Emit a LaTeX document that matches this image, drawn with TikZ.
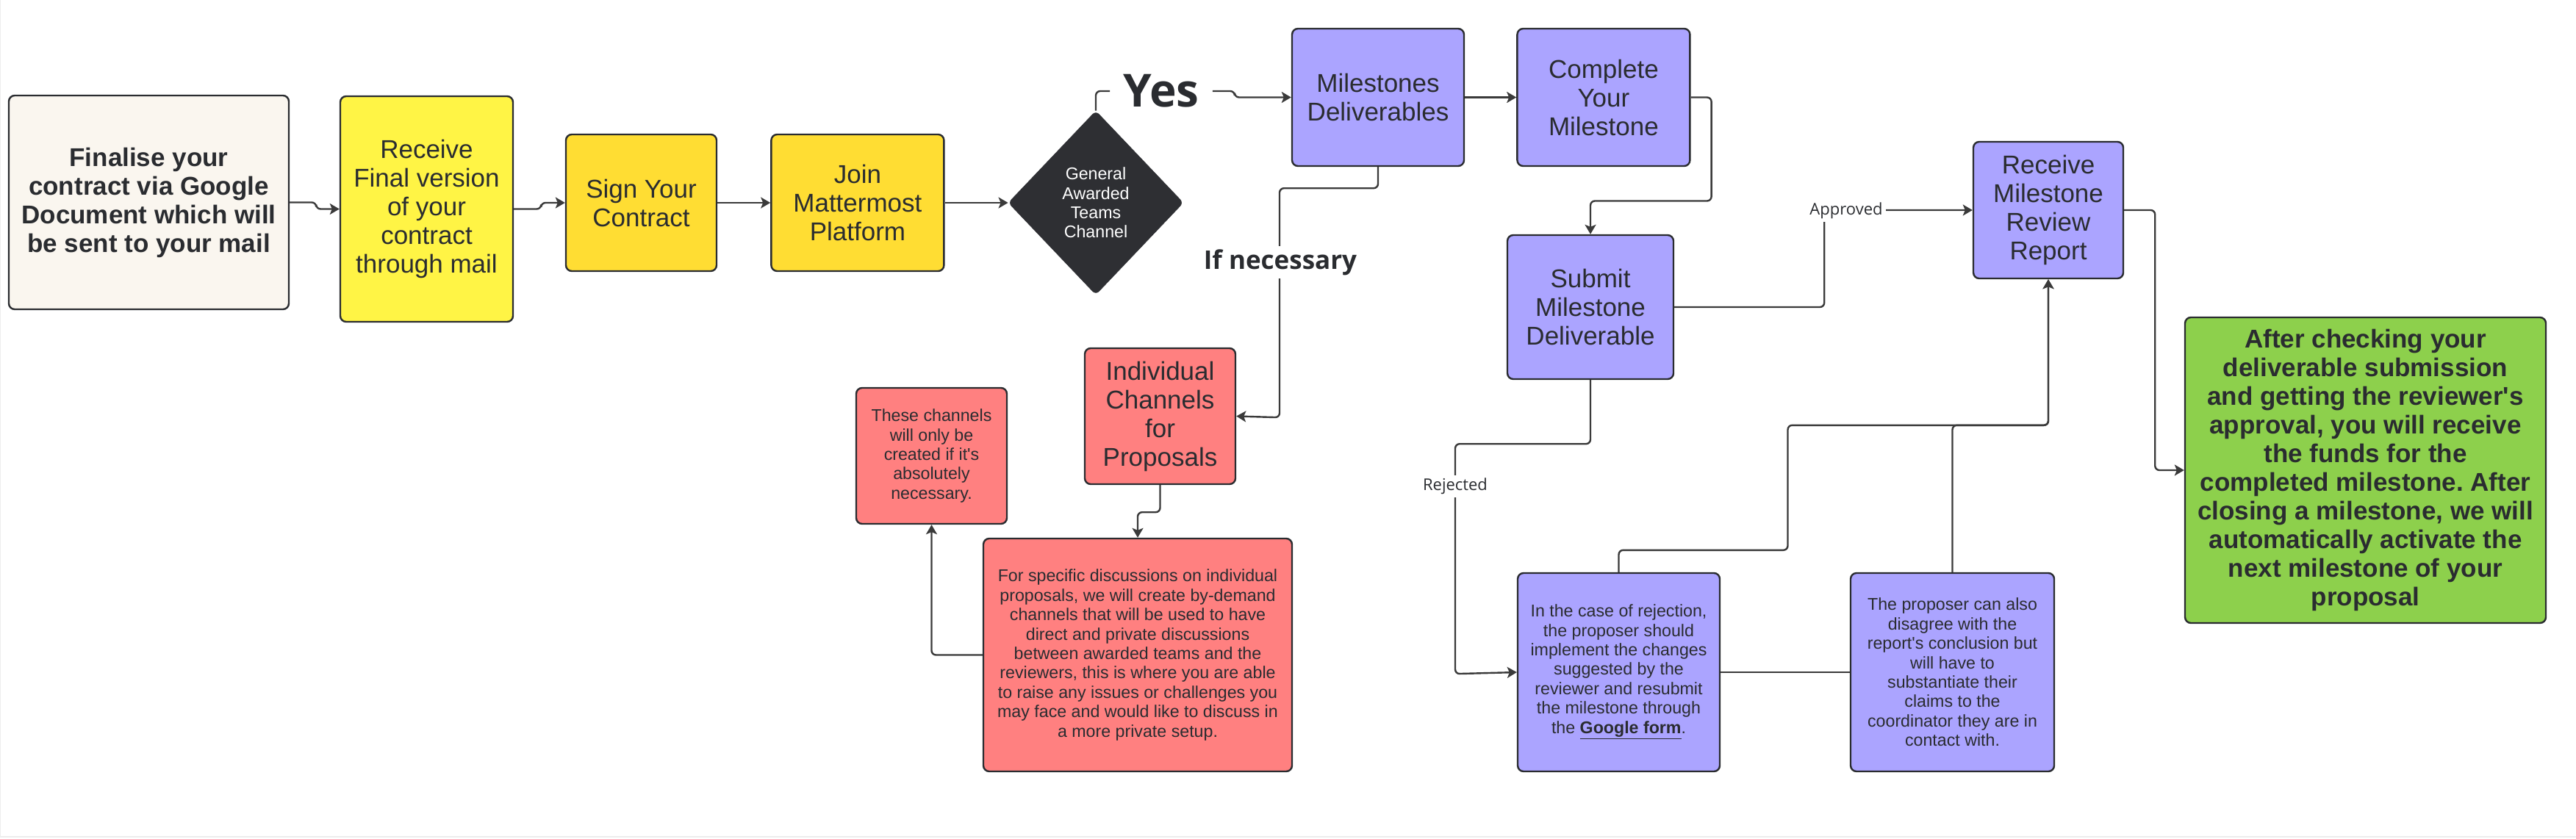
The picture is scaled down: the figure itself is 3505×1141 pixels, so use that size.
\documentclass[tikz,border=0pt]{standalone}
\usepackage{fontspec}
\setmainfont{Liberation Sans}
\newfontfamily\labelfont{Open Sans}
\usetikzlibrary{arrows.meta,positioning,shapes.geometric}
\definecolor{chartink}{HTML}{2A2C30}
\definecolor{chartline}{HTML}{3A3A3A}
\definecolor{chartcream}{HTML}{FAF6EF}
\definecolor{chartlemon}{HTML}{FFF445}
\definecolor{chartgold}{HTML}{FFDD33}
\definecolor{chartnight}{HTML}{2E2F33}
\definecolor{chartlilac}{HTML}{ABA4FF}
\definecolor{chartcoral}{HTML}{FF8080}
\definecolor{chartlime}{HTML}{8DD04C}
\newcommand{\bigtxt}{\fontsize{17.5}{19.5}\selectfont}
\newcommand{\smalltxt}{\fontsize{11.6}{13.2}\selectfont}
\frenchspacing
\tikzset{
  flowbox/.style={
    rounded corners=4pt,
    draw=chartink,
    line width=1.2pt,
    align=center,
    text=chartink,
    inner sep=4pt
  },
  boxsize/.style 2 args={
    minimum width=#1*0.5pt,
    minimum height=#2*0.5pt
  },
  arrow/.style={
    -{Stealth[length=6.5pt,width=7.5pt,inset=1.5pt]},
    line width=1.2pt,
    draw=chartline,
    rounded corners=3pt
  },
  link/.style={
    line width=1.2pt,
    draw=chartline,
    rounded corners=3pt
  },
  edgelabel/.style={
    fill=white,
    inner sep=2pt,
    text=chartink
  }
}

\begin{document}
\begin{tikzpicture}[x=0.5pt, y=-0.5pt, node distance=35pt]
\useasboundingbox (0,0) rectangle (3505,1141);
\draw[black!7, line width=0.8pt] (0.5,0) -- (0.5,1139) -- (3505,1139);
% contract steps
\node[flowbox, fill=chartcream, boxsize={381}{291}, font=\bigtxt\bfseries] (fin) at (202.5,275.5) {Finalise your\\contract via Google\\Document which will\\be sent to your mail};
\node[flowbox, fill=chartlemon, boxsize={235}{307}, font=\bigtxt] (recv) at (580.5,284.5) {Receive\\Final version\\of your\\contract\\through mail};
\node[flowbox, fill=chartgold, boxsize={205}{186}, font=\bigtxt] (sign) at (872.5,276) {Sign Your\\Contract};
\node[flowbox, fill=chartgold, boxsize={235}{186}, font=\bigtxt, right=36pt of sign] (join) {Join\\Mattermost\\Platform};
\node[diamond, fill=chartnight, draw=chartnight, rounded corners=3pt, boxsize={238}{250}, inner sep=0pt, text=white, align=center, font=\smalltxt, right=43pt of join] (channel) {General\\Awarded\\Teams\\Channel};
% milestones
\node[flowbox, fill=chartlilac, boxsize={234}{187}, font=\bigtxt] (milestones) at (1875,132.5) {Milestones\\Deliverables};
\node[flowbox, fill=chartlilac, boxsize={235}{187}, font=\bigtxt, right=35pt of milestones] (complete) {Complete\\Your\\Milestone};
\node[flowbox, fill=chartlilac, boxsize={226}{196}, font=\bigtxt] (submit) at (2164,418) {Submit\\Milestone\\Deliverable};
\node[flowbox, fill=chartlilac, boxsize={204}{186}, font=\bigtxt] (review) at (2787,286) {Receive\\Milestone\\Review\\Report};
\node[flowbox, fill=chartlilac, boxsize={275}{270}, font=\smalltxt] (rework) at (2202.5,915) {In the case of rejection,\\the proposer should\\implement the changes\\suggested by the\\reviewer and resubmit\\the milestone through\\the \underline{\textbf{Google form}}.};
\node[flowbox, fill=chartlilac, boxsize={277}{270}, font=\smalltxt] (dispute) at (2656.5,915) {The proposer can also\\disagree with the\\report\textquotesingle s conclusion but\\will have to\\substantiate their\\claims to the\\coordinator they are in\\contact with.};
\node[flowbox, fill=chartlime, boxsize={491}{416}, font=\bigtxt\bfseries] (funds) at (3218.5,640) {After checking your\\deliverable submission\\and getting the reviewer\textquotesingle s\\approval, you will receive\\the funds for the\\completed milestone. After\\closing a milestone, we will\\automatically activate the\\next milestone of your\\proposal};
% private channels
\node[flowbox, fill=chartcoral, boxsize={205}{185}, font=\bigtxt] (individual) at (1578.5,566.5) {Individual\\Channels\\for\\Proposals};
\node[flowbox, fill=chartcoral, boxsize={205}{185}, font=\smalltxt] (onlyif) at (1267.5,620.5) {These channels\\will only be\\created if it\textquotesingle s\\absolutely\\necessary.};
\node[flowbox, fill=chartcoral, boxsize={420}{317}, font=\smalltxt] (discuss) at (1548,891.5) {For specific discussions on individual\\proposals, we will create by-demand\\channels that will be used to have\\direct and private discussions\\between awarded teams and the\\reviewers, this is where you are able\\to raise any issues or challenges you\\may face and would like to discuss in\\a more private setup.};
\node[font=\labelfont\bfseries\fontsize{31}{34}\selectfont, text=chartink, inner sep=9pt] (yes) at (1580,124) {Yes};
% connectors
\draw[arrow] (fin.east) -- ++(36,0) |- (recv.west);
\draw[arrow] (recv.east) -- ++(37,0) |- (sign.west);
\draw[arrow] (sign) -- (join);
\draw[arrow] (join) -- (channel);
\draw[link] (channel.north) |- (yes.west);
\draw[arrow] (yes.east) -- ++(30,0) |- (milestones.west);
\draw[arrow] (milestones) -- (complete);
\draw[arrow] (complete.east) -- ++(28,0) -- ++(0,141) -| (submit.north);
\draw[arrow] (milestones.south) -- ++(0,29) -| ++(-134,312) -- (individual.east);
\draw[arrow] (individual.south) -- ++(0,37) -| (discuss.north);
\draw[arrow] (discuss.west) -| (onlyif.south);
\draw[arrow] (submit.east) -- ++(204,0) |- (review.west);
\draw[arrow] (submit.south) -- ++(0,87) -| ++(-184,313) -- (rework.west);
\draw[link] (rework) -- (dispute);
\draw[arrow] (rework.north) -- ++(0,-30) -| ++(230,-170) -| (review.south);
\draw[arrow] (dispute.north) -- ++(0,-200) -| (review.south);
\draw[arrow] (review.east) -- ++(42,0) |- (funds.west);
% labels on connectors
\node[edgelabel, font=\labelfont\bfseries\fontsize{17.5}{20}\selectfont] (ifneeded) at (1742,357) {If necessary};
\node[edgelabel, font=\labelfont\fontsize{11}{13}\selectfont] (approved) at (2512,287) {Approved};
\node[edgelabel, font=\labelfont\fontsize{11}{13}\selectfont] (rejected) at (1980,662) {Rejected};
\end{tikzpicture}
\end{document}
